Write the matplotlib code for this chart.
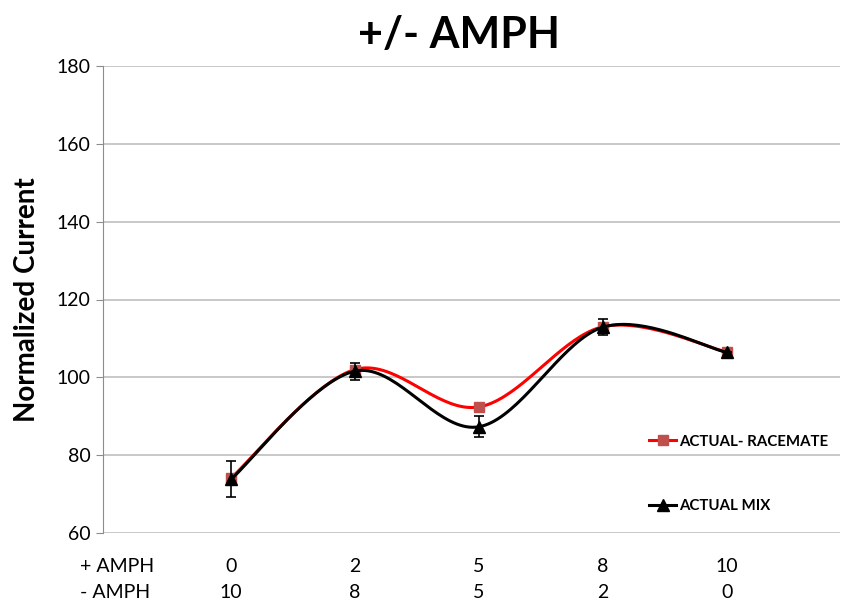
import numpy as np
import matplotlib
matplotlib.use("Agg")
import matplotlib.pyplot as plt
from matplotlib.lines import Line2D

plt.rcParams['font.family'] = ['Lato', 'DejaVu Sans']

plus_amph = ["0", "2", "5", "8", "10"]
minus_amph = ["10", "8", "5", "2", "0"]
racemate = [74.1, 102.0, 92.4, 113.0, 106.5]
mix = [73.8, 101.6, 87.3, 112.9, 106.4]
mix_err = [4.6, 2.2, 2.7, 2.0, 0.0]

GRID = "#BFBFBF"


def catmull(xs, ys, n=40):
    xs = np.asarray(xs, float); ys = np.asarray(ys, float)
    P = np.column_stack([xs, ys])
    P = np.vstack([P[0], P, P[-1]])
    out = []
    for i in range(1, len(P) - 2):
        p0, p1, p2, p3 = P[i - 1], P[i], P[i + 1], P[i + 2]
        c1 = p1 + (p2 - p0) / 6.0
        c2 = p2 - (p3 - p1) / 6.0
        t = np.linspace(0, 1, n)[:, None]
        seg = ((1 - t) ** 3) * p1 + 3 * ((1 - t) ** 2) * t * c1 + 3 * (1 - t) * t ** 2 * c2 + t ** 3 * p2
        out.append(seg if i == 1 else seg[1:])
    a = np.vstack(out)
    return a[:, 0], a[:, 1]


fig = plt.figure(figsize=(8.45, 6.05), dpi=100)
ax = fig.add_axes([103 / 845, 1 - 533 / 605, (840 - 103) / 845, (533 - 66) / 605])

x = np.arange(len(plus_amph))
sx, sy = catmull(x, racemate)
ax.plot(sx, sy, color="#FF0000", lw=2.2, zorder=3)
ax.plot(x, racemate, ls="none", marker="s", ms=7, color="#C0504D", zorder=4)
sx2, sy2 = catmull(x, mix)
ax.plot(sx2, sy2, color="black", lw=2.2, zorder=5)
ax.errorbar(x, mix, yerr=mix_err, fmt="none", ecolor="black", elinewidth=1.2, capsize=3.5, capthick=1.2, zorder=5)
ax.plot(x, mix, ls="none", marker="^", ms=8, color="black", zorder=6)

ax.set_xlim((103 - 231) / 124, (840 - 231) / 124)
ax.set_ylim(60, 180)
ax.set_yticks(range(60, 181, 20))
ax.yaxis.grid(True, color=GRID, lw=1.2)
ax.set_axisbelow(True)
for s in ["top", "right", "bottom"]:
    ax.spines[s].set_visible(False)
ax.spines["left"].set_color("#8C8C8C")
ax.tick_params(axis="y", length=5, color="#8C8C8C", labelsize=14, pad=4)
ax.set_xticks([])

tr = ax.get_xaxis_transform()
row1 = (533 - 566) / 467
row2 = (533 - 592) / 467
for xi, a, b in zip(x, plus_amph, minus_amph):
    ax.text(xi, row1, a, transform=tr, fontsize=14, ha="center", va="center", clip_on=False)
    ax.text(xi, row2, b, transform=tr, fontsize=14, ha="center", va="center", clip_on=False)
xlab = (80 - 231) / 124
ax.text(xlab, row1, "+ AMPH", transform=tr, fontsize=14, ha="left", va="center", clip_on=False)
ax.text(xlab, row2, "- AMPH", transform=tr, fontsize=14, ha="left", va="center", clip_on=False)

ax.set_ylabel("Normalized Current", fontsize=20, fontweight="bold", labelpad=12)
fig.text(459 / 845, 1 - 35 / 605, "+/- AMPH", fontsize=31, fontweight="bold", ha="center", va="center")

h1 = Line2D([], [], color="#FF0000", lw=2.2, marker="s", ms=7, mfc="#C0504D", mec="#C0504D")
h2 = Line2D([], [], color="black", lw=2.2, marker="^", ms=8)
leg = ax.legend([h1, h2], ["ACTUAL- RACEMATE", "ACTUAL MIX"], loc="upper left",
                bbox_to_anchor=(636 / 845, 1 - 421 / 605), bbox_transform=fig.transFigure,
                frameon=False, handlelength=1.8, handletextpad=0.2, labelspacing=3.4,
                prop={"weight": "bold", "size": 10.8})

fig.savefig("out.png", dpi=100)
